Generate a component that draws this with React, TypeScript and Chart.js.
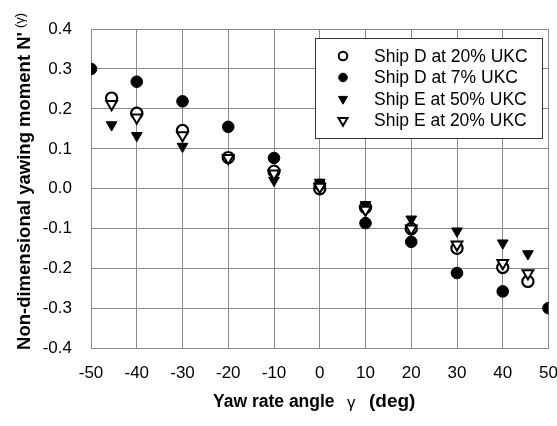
import { useEffect, useRef } from 'react';
import { Chart, registerables } from 'chart.js';

Chart.register(...registerables);

// Yaw rate angles (deg) at which each ship was tested
const shipD7Angles = [-50, -40, -30, -20, -10, 0, 10, 20, 30, 40, 50];
const shipAngles = [-45.5, -40, -30, -20, -10, 0, 10, 20, 30, 40, 45.5];

// Non-dimensional yawing moment N'(γ)
const shipD20Moment = [0.227, 0.189, 0.146, 0.078, 0.044, 0.0, -0.047, -0.1, -0.149, -0.197, -0.232];
const shipD7Moment = [0.3, 0.268, 0.219, 0.155, 0.077, 0.01, -0.086, -0.133, -0.211, -0.257, -0.299];
const shipE50Moment = [0.16, 0.133, 0.106, 0.077, 0.021, 0.016, -0.04, -0.076, -0.106, -0.136, -0.163];
const shipE20Moment = [0.212, 0.178, 0.134, 0.077, 0.038, 0.005, -0.053, -0.1, -0.14, -0.186, -0.212];

const seriesLabels = ['Ship D at 20% UKC', 'Ship D at 7% UKC', 'Ship E at 50% UKC', 'Ship E at 20% UKC'];

const xTickValues = [-50, -40, -30, -20, -10, 0, 10, 20, 30, 40, 50];
const yTickValues = [-0.4, -0.3, -0.2, -0.1, 0.0, 0.1, 0.2, 0.3, 0.4];

const FONT = '"Liberation Sans", Arial, sans-serif';

const toPoints = (xs: number[], ys: number[]) => xs.map((x, i) => ({ x, y: ys[i] }));

const legendPlugin = {
  id: 'boxLegend',
  afterDraw(chart: any) {
    const ctx = chart.ctx as CanvasRenderingContext2D;
    const left = 315.5, top = 38.5, right = 542.5, bottom = 138.5;
    ctx.save();
    ctx.fillStyle = '#ffffff';
    ctx.fillRect(left, top, right - left, bottom - top);
    ctx.strokeStyle = '#333333';
    ctx.lineWidth = 1;
    ctx.strokeRect(left, top, right - left, bottom - top);
    const rows = [56, 77.5, 99, 120.5];
    chart.data.datasets.forEach((ds: any, i: number) => {
      const y = rows[i];
      const x = 343;
      ctx.beginPath();
      if (ds.pointStyle === 'circle') {
        ctx.arc(x, y, 4.3, 0, Math.PI * 2);
      } else {
        const r = 5.2;
        ctx.moveTo(x - r * 0.866, y - r * 0.5);
        ctx.lineTo(x + r * 0.866, y - r * 0.5);
        ctx.lineTo(x, y + r);
        ctx.closePath();
      }
      ctx.fillStyle = ds.backgroundColor;
      ctx.fill();
      ctx.lineWidth = ds.backgroundColor === '#ffffff' ? 2 : 1;
      ctx.strokeStyle = '#000000';
      ctx.stroke();
      ctx.fillStyle = '#000000';
      ctx.font = `17.5px ${FONT}`;
      ctx.textAlign = 'left';
      ctx.textBaseline = 'middle';
      ctx.fillText(ds.label, 374, y + 1);
    });
    ctx.restore();
  },
};

const axisTitlePlugin = {
  id: 'axisTitles',
  afterDraw(chart: any) {
    const ctx = chart.ctx as CanvasRenderingContext2D;
    ctx.save();
    ctx.fillStyle = '#000000';
    ctx.textBaseline = 'middle';
    ctx.textAlign = 'left';
    ctx.font = `bold 17.5px ${FONT}`;
    ctx.fillText('Yaw rate angle', 213, 402);
    ctx.font = `17px ${FONT}`;
    ctx.fillText('\u03b3', 347, 403);
    ctx.font = `bold 19px ${FONT}`;
    ctx.fillText('(deg)', 369, 402);

    ctx.translate(25, 191);
    ctx.rotate(-Math.PI / 2);
    const main = "Non-dimensional yawing moment N'";
    ctx.font = `bold 18.5px ${FONT}`;
    ctx.textAlign = 'center';
    const w = ctx.measureText(main).width;
    ctx.fillText(main, 0, 0);
    ctx.font = `13px ${FONT}`;
    ctx.textAlign = 'left';
    ctx.fillText('(\u03b3)', w / 2 + 4, -5);
    ctx.restore();
  },
};

export default function App() {
  const canvasRef = useRef<HTMLCanvasElement | null>(null);

  useEffect(() => {
    if (!canvasRef.current) return;
    const chart = new Chart(canvasRef.current, {
      type: 'scatter',
      data: {
        datasets: [
          {
            label: seriesLabels[0],
            data: toPoints(shipAngles, shipD20Moment),
            pointStyle: 'circle',
            pointRadius: 5.6,
            backgroundColor: '#ffffff',
            borderColor: '#000000',
            borderWidth: 2.2,
            order: 3,
          },
          {
            label: seriesLabels[1],
            data: toPoints(shipD7Angles, shipD7Moment),
            pointStyle: 'circle',
            pointRadius: 5.8,
            backgroundColor: '#000000',
            borderColor: '#000000',
            borderWidth: 1,
            order: 2,
          },
          {
            label: seriesLabels[2],
            data: toPoints(shipAngles, shipE50Moment),
            pointStyle: 'triangle',
            rotation: 180,
            pointRadius: 6.2,
            backgroundColor: '#000000',
            borderColor: '#000000',
            borderWidth: 1,
            order: 1,
          },
          {
            label: seriesLabels[3],
            data: toPoints(shipAngles, shipE20Moment),
            pointStyle: 'triangle',
            rotation: 180,
            pointRadius: 6.2,
            backgroundColor: '#ffffff',
            borderColor: '#000000',
            borderWidth: 2,
            order: 0,
          },
        ],
      },
      options: {
        responsive: false,
        animation: false,
        events: [],
        layout: { padding: { left: 0, top: 29, right: 8.5, bottom: 0 } },
        plugins: {
          legend: { display: false },
          tooltip: { enabled: false },
          title: { display: false },
        },
        scales: {
          x: {
            type: 'linear',
            min: -50,
            max: 50,
            afterBuildTicks: (scale: any) => {
              scale.ticks = xTickValues.map((value) => ({ value }));
            },
            afterFit: (scale: any) => {
              scale.height = 77.5;
              scale.paddingLeft = 0;
              scale.paddingRight = 0;
            },
            ticks: {
              color: '#000000',
              font: { family: FONT, size: 17 },
              padding: 15,
              maxRotation: 0,
              callback: (v: any) => String(Math.round(Number(v))),
            },
            grid: { color: '#8a8a8a', lineWidth: 1, drawTicks: false },
            border: { color: '#8a8a8a' },
          },
          y: {
            type: 'linear',
            min: -0.4,
            max: 0.4,
            afterBuildTicks: (scale: any) => {
              scale.ticks = yTickValues.map((value) => ({ value }));
            },
            afterFit: (scale: any) => {
              scale.width = 91;
              scale.paddingTop = 0;
              scale.paddingBottom = 0;
            },
            ticks: {
              color: '#000000',
              font: { family: FONT, size: 17 },
              padding: 19,
              callback: (v: any) => {
                const n = Number(v);
                return Math.abs(n) < 1e-9 ? '0.0' : n.toFixed(1);
              },
            },
            grid: { color: '#8a8a8a', lineWidth: 1, drawTicks: false },
            border: { color: '#8a8a8a' },
          },
        },
      },
      plugins: [legendPlugin, axisTitlePlugin],
    });
    return () => chart.destroy();
  }, []);

  return (
    <div style={{ position: 'fixed', left: 0, top: 0, width: 557, height: 426, background: '#ffffff' }}>
      <canvas ref={canvasRef} width={557} height={426} style={{ display: 'block' }} />
    </div>
  );
}
